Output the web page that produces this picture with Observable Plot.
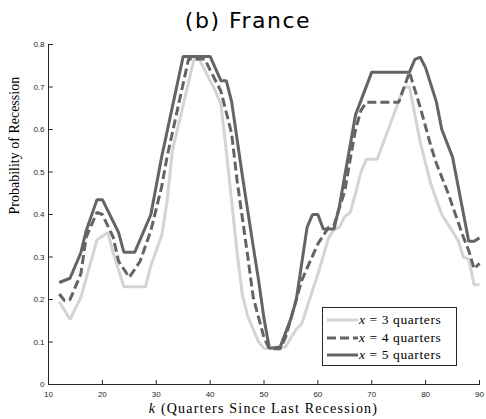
<!DOCTYPE html>
<html>
<head>
<meta charset="utf-8">
<script src="https://cdn.jsdelivr.net/npm/d3@7"></script>
<script src="https://cdn.jsdelivr.net/npm/@observablehq/plot@0.6"></script>
<style>
  body { margin: 0; background: #fff; }
  #wrap { position: relative; width: 486px; height: 419px; overflow: hidden; background: #fff; }
  #title { position: absolute; left: 5px; top: 8px; width: 486px; text-align: center;
           font-family: "DejaVu Sans", sans-serif; font-size: 22px; letter-spacing: 1.5px; color: #000; }
  #chart { position: absolute; left: 0; top: 34px; }
  #xlabel { position: absolute; left: 48px; width: 431px; top: 401px; text-align: center;
            font-family: "Liberation Serif", serif; font-size: 14px; letter-spacing: 1.2px; color: #000; }
  #legend { position: absolute; left: 322px; top: 307px; width: 133px; height: 57px;
            border: 1px solid #262626; background: #fff; }
  .row { position: absolute; left: 0; height: 16px; width: 133px; }
  .row svg { position: absolute; left: 4px; top: 0; }
  .row span { position: absolute; left: 36px; top: 0; line-height: 16px;
              font-family: "Liberation Serif", serif; font-size: 13.5px; letter-spacing: 0.6px; color: #000; white-space: nowrap; }
</style>
</head>
<body>
<div id="wrap">
  <div id="title">(b) France</div>
  <div id="chart"></div>
  <div id="xlabel"><i>k</i> (Quarters Since Last Recession)</div>
  <div id="legend"></div>
</div>
<script>
// Recession probability by quarters since the last recession, for three horizons x
const seriesNames = ["3", "4", "5"];

const x3K = [12,14,16,19,21,22,24,28,29,31,32,33,37,38,41,42,43,44,45,46,47,49,50,54,55,56,57,60,62,63,64,65,66,67,68,69,71,76,77,79,81,83,86,87,88,89,90];
const x3P = [0.195,0.153,0.205,0.34,0.358,0.31,0.23,0.23,0.28,0.35,0.43,0.55,0.765,0.765,0.69,0.66,0.55,0.43,0.31,0.21,0.16,0.10,0.085,0.088,0.11,0.13,0.143,0.26,0.345,0.365,0.37,0.395,0.405,0.45,0.50,0.53,0.53,0.70,0.70,0.57,0.47,0.40,0.34,0.30,0.295,0.235,0.235];

const x4K = [12,13,14,16,17,19,20,22,23,25,27,29,31,32,36,39,40,42,44,45,47,48,50,51,53,54,57,60,62,63,65,66,67,68,69,75,77,79,81,82,84,87,88,89,90];
const x4P = [0.213,0.197,0.20,0.26,0.347,0.405,0.40,0.347,0.29,0.252,0.29,0.362,0.465,0.535,0.766,0.766,0.74,0.69,0.59,0.48,0.30,0.205,0.11,0.084,0.084,0.111,0.245,0.331,0.37,0.375,0.456,0.53,0.60,0.645,0.664,0.664,0.735,0.652,0.56,0.52,0.456,0.347,0.315,0.272,0.285];

const x5K = [12,14,16,17,19,20,23,24,26,29,31,35,40,42,43,44,46,48,49,50,51,53,55,56,58,59,60,61,63,64,67,70,77,78,79,80,82,83,85,88,89,90];
const x5P = [0.24,0.25,0.31,0.362,0.435,0.435,0.358,0.311,0.311,0.40,0.535,0.772,0.772,0.715,0.715,0.665,0.49,0.325,0.245,0.155,0.085,0.088,0.155,0.20,0.37,0.40,0.40,0.366,0.366,0.42,0.635,0.735,0.735,0.765,0.77,0.745,0.665,0.60,0.535,0.337,0.337,0.345];

const xTicks = [10,20,30,40,50,60,70,80,90];
const yTicks = [0,0.1,0.2,0.3,0.4,0.5,0.6,0.7,0.8];

// line styles per horizon
const styles = [
  {stroke: "#d4d4d4", strokeWidth: 3, strokeDasharray: null},
  {stroke: "#646464", strokeWidth: 3, strokeDasharray: "9,4"},
  {stroke: "#646464", strokeWidth: 3, strokeDasharray: null}
];

const toRows = (ks, ps, name) => ks.map((k, i) => ({k, p: ps[i], series: name}));
const seriesData = [
  toRows(x3K, x3P, seriesNames[0]),
  toRows(x4K, x4P, seriesNames[1]),
  toRows(x5K, x5P, seriesNames[2])
];

const axisColor = "#262626";
// inward-pointing tick stub
const stub = {draw(context, l) { context.moveTo(0, 0); context.lineTo(0, -l); }};

const chart = Plot.plot({
  width: 486,
  height: 366,
  marginLeft: 48,
  marginRight: 7,
  marginTop: 10,
  marginBottom: 16,
  x: {domain: [10, 90]},
  y: {domain: [0, 0.8]},
  style: {fontFamily: "'Liberation Sans', Arial, sans-serif", fontSize: "8px", color: axisColor, background: "#fff", overflow: "visible"},
  marks: [
    ...seriesData.map((rows, i) => Plot.line(rows, {
      x: "k", y: "p",
      stroke: styles[i].stroke,
      strokeWidth: styles[i].strokeWidth,
      strokeDasharray: styles[i].strokeDasharray,
      strokeLinejoin: "miter",
      strokeLinecap: "butt"
    })),
    Plot.ruleY([0], {stroke: axisColor, strokeWidth: 1}),
    Plot.ruleX([10], {stroke: axisColor, strokeWidth: 1}),
    Plot.vector(xTicks, {x: d => d, y: 0, length: 4, anchor: "start", rotate: 0, shape: stub, stroke: axisColor, strokeWidth: 1, fill: "none"}),
    Plot.vector(yTicks, {x: 10, y: d => d, length: 4, anchor: "start", rotate: 90, shape: stub, stroke: axisColor, strokeWidth: 1, fill: "none"}),
    Plot.axisX(xTicks, {tickSize: 0, tickPadding: 7, label: null, fontSize: 8}),
    Plot.axisY(yTicks, {tickSize: 0, tickPadding: 4, label: null, fontSize: 8, tickFormat: d => String(d)}),
    Plot.text(["Probability of Recession"], {
      frameAnchor: "left", rotate: -90, dx: -34,
      fontFamily: "'Liberation Serif', serif", fontSize: 14, fill: "#000",
      letterSpacing: 1.2
    })
  ]
});
document.getElementById("chart").appendChild(chart);

// legend
const legend = document.getElementById("legend");
seriesNames.forEach((name, i) => {
  const row = document.createElement("div");
  row.className = "row";
  row.style.top = (4 + i * 17.5) + "px";
  const s = styles[i];
  row.innerHTML =
    `<svg width="31" height="16"><line x1="0" x2="31" y1="8" y2="8" stroke="${s.stroke}" stroke-width="${s.strokeWidth}"` +
    (s.strokeDasharray ? ` stroke-dasharray="${s.strokeDasharray}"` : "") + `/></svg>` +
    `<span><i>x</i> = ${name} quarters</span>`;
  legend.appendChild(row);
});
</script>
</body>
</html>
